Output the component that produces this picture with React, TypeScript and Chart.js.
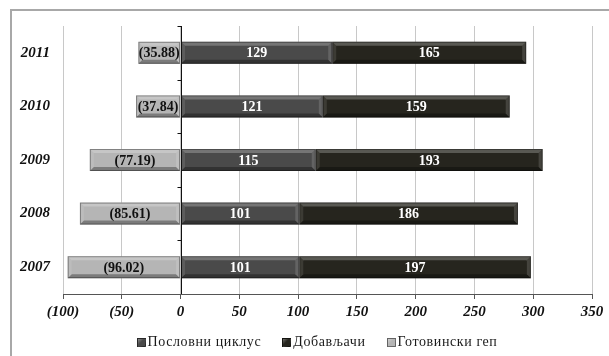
import { useEffect, useRef } from "react";
import { Chart, registerables } from "chart.js";

Chart.register(...registerables);

// Years on the category axis (drawn bottom-up: 2007 at the bottom)
const years = ["2007", "2008", "2009", "2010", "2011"];
// Business cycle, days
const businessCycle = [101, 101, 115, 121, 129];
// Supplier payment period, days
const suppliers = [197, 186, 193, 159, 165];
// Cash gap, days (negative)
const cashGap = [-96.02, -85.61, -77.19, -37.84, -35.88];
// Value axis ticks
const xTicks = [-100, -50, 0, 50, 100, 150, 200, 250, 300, 350];

const seriesNames = ["Пословни циклус", "Добављачи", "Готовински геп"];
const seriesColors = ["#4a4a4a", "#26251e", "#b5b5b5"];
const labelColors = ["#ffffff", "#ffffff", "#111111"];

const SERIF = '"Liberation Serif", "Times New Roman", serif';

const fmtAxis = (v: number) => (v < 0 ? `(${Math.abs(v)})` : `${v}`);
const fmtLabel = (v: number) =>
  v < 0 ? `(${Math.abs(v).toFixed(2)})` : `${v}`;

// Bevelled look on each bar: light top/left edges, dark bottom edge
const bevelPlugin = {
  id: "bevel",
  afterDatasetsDraw(chart: any) {
    const ctx = chart.ctx;
    chart.data.datasets.forEach((_ds: any, di: number) => {
      const meta = chart.getDatasetMeta(di);
      meta.data.forEach((el: any) => {
        const { x, y, base, height } = el.getProps(["x", "y", "base", "height"], true);
        const L = Math.min(x, base);
        const R = Math.max(x, base);
        const T = y - height / 2;
        const B = y + height / 2;
        const b = Math.min(4, (R - L) / 3, height / 4);
        const poly = (pts: number[][], fill: string) => {
          ctx.beginPath();
          ctx.moveTo(pts[0][0], pts[0][1]);
          for (let i = 1; i < pts.length; i++) ctx.lineTo(pts[i][0], pts[i][1]);
          ctx.closePath();
          ctx.fillStyle = fill;
          ctx.fill();
        };
        ctx.save();
        poly([[L, T], [R, T], [R - b, T + b], [L + b, T + b]], "rgba(255,255,255,0.24)");
        poly([[L, B], [R, B], [R - b, B - b], [L + b, B - b]], "rgba(0,0,0,0.32)");
        poly([[L, T], [L + b, T + b], [L + b, B - b], [L, B]], "rgba(255,255,255,0.10)");
        poly([[R, T], [R - b, T + b], [R - b, B - b], [R, B]], "rgba(255,255,255,0.14)");
        ctx.strokeStyle = "rgba(0,0,0,0.35)";
        ctx.lineWidth = 1;
        ctx.strokeRect(L + 0.5, T + 0.5, R - L - 1, B - T - 1);
        ctx.restore();
      });
    });
  },
};

// Vertical axis line through zero with small category ticks
const zeroAxisPlugin = {
  id: "zeroAxis",
  afterDatasetsDraw(chart: any) {
    const { ctx, chartArea } = chart;
    const xs = chart.scales.x;
    const ys = chart.scales.y;
    const x0 = Math.round(xs.getPixelForValue(0)) + 0.5;
    ctx.save();
    ctx.strokeStyle = "#111111";
    ctx.lineWidth = 1;
    ctx.beginPath();
    ctx.moveTo(x0, chartArea.top);
    ctx.lineTo(x0, chartArea.bottom);
    const step = (ys.bottom - ys.top) / years.length;
    for (let k = 0; k < years.length; k++) {
      const yy = Math.round(ys.top + k * step) + 0.5;
      ctx.moveTo(x0 - 4, yy);
      ctx.lineTo(x0, yy);
    }
    ctx.stroke();
    ctx.restore();
  },
};

// Value labels centred in each bar segment
const valueLabelPlugin = {
  id: "valueLabels",
  afterDatasetsDraw(chart: any) {
    const ctx = chart.ctx;
    ctx.save();
    ctx.font = `bold 14px ${SERIF}`;
    ctx.textAlign = "center";
    ctx.textBaseline = "middle";
    chart.data.datasets.forEach((ds: any, di: number) => {
      const meta = chart.getDatasetMeta(di);
      meta.data.forEach((el: any, i: number) => {
        const { x, y, base } = el.getProps(["x", "y", "base"], true);
        ctx.fillStyle = labelColors[di];
        ctx.fillText(fmtLabel(ds.data[i]), (x + base) / 2, y + 1);
      });
    });
    ctx.restore();
  },
};

function LegendSwatch({ color }: { color: string }) {
  return (
    <span
      style={{
        display: "inline-block",
        width: 9,
        height: 9,
        marginRight: 2,
        background: `linear-gradient(135deg, rgba(255,255,255,0.35), rgba(255,255,255,0) 45%), ${color}`,
        border: "1px solid rgba(0,0,0,0.45)",
        boxSizing: "border-box",
      }}
    />
  );
}

export default function App() {
  const ref = useRef<HTMLCanvasElement | null>(null);

  useEffect(() => {
    if (!ref.current) return;
    const series = [businessCycle, suppliers, cashGap];
    const chart = new Chart(ref.current, {
      type: "bar",
      data: {
        labels: years,
        datasets: series.map((d, i) => ({
          label: seriesNames[i],
          data: d,
          backgroundColor: seriesColors[i],
          borderWidth: 0,
          barPercentage: 0.41,
          categoryPercentage: 1,
        })),
      },
      options: {
        indexAxis: "y",
        responsive: false,
        animation: false,
        layout: { padding: { top: 26, right: 17, left: 0, bottom: 30 } },
        scales: {
          x: {
            stacked: true,
            min: -100,
            max: 350,
            afterBuildTicks: (scale: any) => {
              scale.ticks = xTicks.map((v) => ({ value: v }));
            },
            afterFit: (scale: any) => {
              scale.height = 32;
            },
            grid: {
              color: "#c8c8c8",
              lineWidth: 1,
              drawTicks: true,
              tickLength: 5,
              tickColor: "#555555",
            },
            border: { color: "#555555", width: 1 },
            ticks: {
              padding: 4,
              color: "#111111",
              font: { family: SERIF, size: 15, weight: "bold", style: "italic" },
              callback: (v: any) => fmtAxis(Number(v)),
              maxRotation: 0,
            },
          },
          y: {
            stacked: true,
            reverse: true,
            afterFit: (scale: any) => {
              scale.width = 63;
            },
            grid: { display: false, drawTicks: false },
            border: { display: false },
            ticks: {
              padding: 13,
              color: "#111111",
              font: { family: SERIF, size: 15, weight: "bold", style: "italic" },
            },
          },
        },
        plugins: {
          legend: { display: false },
          tooltip: { enabled: false },
        },
      },
      plugins: [bevelPlugin, zeroAxisPlugin, valueLabelPlugin],
    });
    return () => chart.destroy();
  }, []);

  return (
    <div style={{ position: "fixed", left: 0, top: 0, width: 609, height: 356, background: "#ffffff" }}>
      <div
        style={{
          position: "absolute",
          left: 10,
          top: 9,
          width: 620,
          height: 370,
          border: "2px solid #a8a8a8",
          boxSizing: "border-box",
        }}
      />
      <canvas ref={ref} width={609} height={356} style={{ position: "absolute", left: 0, top: 0 }} />
      <div
        style={{
          position: "absolute",
          left: 0,
          top: 333,
          width: 634,
          height: 18,
          display: "flex",
          justifyContent: "center",
          alignItems: "center",
          gap: 21,
          fontFamily: SERIF,
          fontSize: 14,
          color: "#1a1a1a",
          whiteSpace: "nowrap",
        }}
      >
        {seriesNames.map((name, i) => (
          <span key={name} style={{ display: "flex", alignItems: "center", letterSpacing: 0.6 }}>
            <LegendSwatch color={seriesColors[i]} />
            {name}
          </span>
        ))}
      </div>
    </div>
  );
}
